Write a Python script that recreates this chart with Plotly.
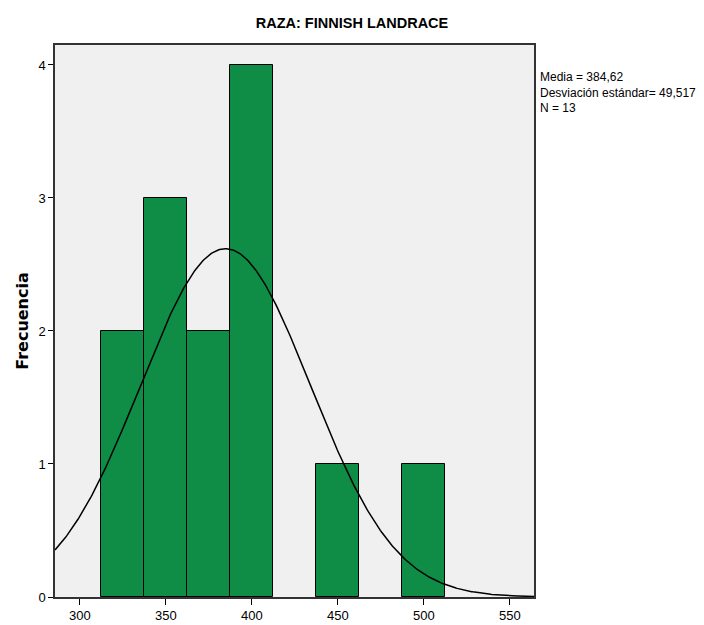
import numpy as np
import plotly.graph_objects as go

# Histogram bins (width 25) and counts
bin_starts = [312.5, 337.5, 362.5, 387.5, 437.5, 487.5]
counts = [2, 3, 2, 4, 1, 1]
bin_width = 25

# Summary statistics
media = 384.62
desv = 49.517
n = 13

x_ticks = [300, 350, 400, 450, 500, 550]
y_ticks = [0, 1, 2, 3, 4]
x_range = [285.5, 564]
y_range = [0, 4.15]

centers = [s + bin_width / 2 for s in bin_starts]

# Fitted normal curve scaled to frequency
xs = np.linspace(x_range[0], x_range[1], 400)
ys = n * bin_width * np.exp(-0.5 * ((xs - media) / desv) ** 2) / (desv * np.sqrt(2 * np.pi))

sans = "Liberation Sans, Arial, sans-serif"

fig = go.Figure()
fig.add_trace(go.Bar(
    x=centers, y=counts, width=[bin_width] * len(centers),
    marker=dict(color="#0f8c45", line=dict(color="#000000", width=1)),
    hoverinfo="x+y",
))
fig.add_trace(go.Scatter(
    x=xs, y=ys, mode="lines",
    line=dict(color="#000000", width=1.5),
    hoverinfo="skip",
))

fig.update_layout(
    width=704, height=625,
    margin=dict(l=55, r=170, t=45, b=28),
    paper_bgcolor="#ffffff",
    plot_bgcolor="#f0f0f0",
    showlegend=False,
    bargap=0,
    title=dict(
        text="<b>RAZA: FINNISH LANDRACE</b>",
        x=0.5, xref="container", xanchor="center",
        y=1 - 23 / 625, yanchor="middle",
        font=dict(family=sans, size=14.5, color="#000000"),
    ),
    xaxis=dict(
        range=x_range, tickvals=x_ticks, ticktext=[str(v) for v in x_ticks],
        showgrid=False, zeroline=False, automargin=False,
        ticks="outside", ticklen=6, tickcolor="#000000", tickwidth=1,
        showline=True, linecolor="#333333", linewidth=1.5, mirror=True,
        tickfont=dict(family=sans, size=13, color="#000000"),
    ),
    yaxis=dict(
        range=y_range, tickvals=y_ticks,
        showgrid=False, zeroline=False, automargin=False,
        ticks="outside", ticklen=5, tickcolor="#000000", tickwidth=1,
        showline=True, linecolor="#333333", linewidth=1.5, mirror=True,
        tickfont=dict(family=sans, size=13, color="#000000"),
        title=dict(text="<b>Frecuencia</b>", standoff=6,
                   font=dict(family="DejaVu Sans, sans-serif", size=16, color="#000000")),
    ),
    annotations=[dict(
        text=f"Media = {str(media).replace('.', ',')}<br>"
             f"Desviación estándar= {str(desv).replace('.', ',')}<br>N = {n}",
        xref="paper", yref="paper", x=1, y=1 - 23 / 552,
        xanchor="left", yanchor="top", xshift=4, align="left",
        showarrow=False,
        font=dict(family=sans, size=12, color="#000000"),
    )],
)

fig.write_html("out.html")
